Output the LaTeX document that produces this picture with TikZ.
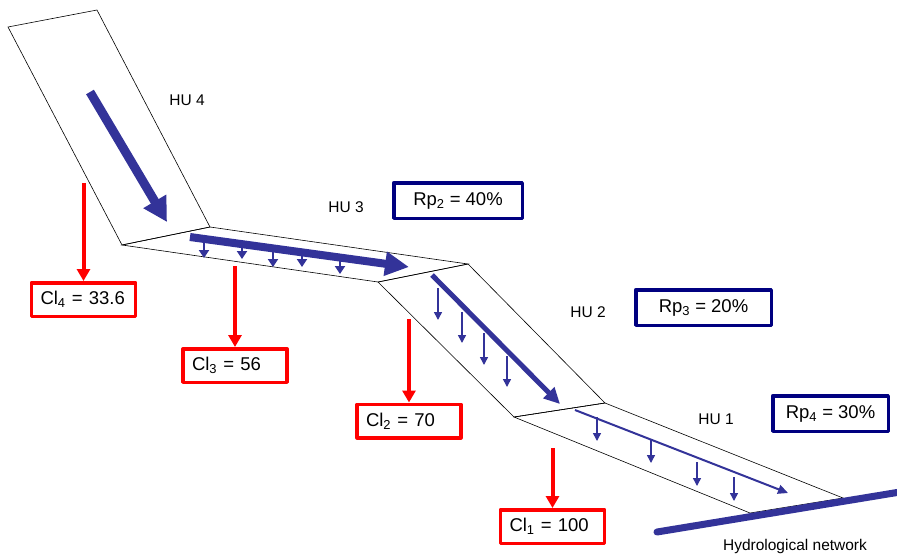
\documentclass[tikz,border=0pt]{standalone}
\usepackage{fontspec}
\setmainfont{Liberation Sans}
\usepackage{tikz}
\usetikzlibrary{shapes,arrows,arrows.meta,positioning}
\definecolor{flowblue}{RGB}{51,51,153}
\definecolor{navy}{RGB}{0,0,128}

\begin{document}
\begin{tikzpicture}[x=1pt,y=-1pt,
  every node/.style={font=\fontsize{15.5}{18}\selectfont},
  clbox/.style={draw=red,line width=3.5pt,line join=round,minimum height=33.5pt,text width=86pt,inner xsep=9pt,align=left,font=\fontsize{18.5}{22}\selectfont},
  rpbox/.style={draw=navy,line width=3.5pt,line join=round,minimum height=35.5pt,align=center,font=\fontsize{18.5}{22}\selectfont},
  unit/.style={draw=black,line width=0.6pt,line join=miter},
  loss/.style={draw=red,line width=4pt,-{Triangle[width=13pt,length=12pt]}},
  seep/.style={draw=flowblue,line width=1.5pt,-{Triangle[width=8pt,length=8pt]}}]
\useasboundingbox (0,0) rectangle (897,558);

% hydrological units
\draw[unit] (8,27) -- (97,10) -- (210,227) -- (122,245) -- cycle;
\draw[unit] (122,245) -- (210,227) -- (468,264) -- (378,282) -- cycle;
\draw[unit] (378,282) -- (468,264) -- (605,403) -- (514,417) -- cycle;
\draw[unit] (514,417) -- (605,403) -- (843,498) -- (750,513) -- cycle;

% surface flow
\draw[flowblue,line width=9pt,-{Triangle[width=25pt,length=24pt]}] (90,92) -- (167,222);
\draw[flowblue,line width=8pt,-{Triangle[width=23pt,length=24pt]}] (190,237) -- (409,267);
\draw[flowblue,line width=5pt,-{Triangle[width=15pt,length=16pt]}] (432,275) -- (560,404);
\draw[flowblue,line width=2pt,-{Triangle[width=9pt,length=10pt]}] (575,410) -- (788,493);

% infiltration
\foreach \x/\ya/\yb in {204/239/258,242/244/259,273/248/267,302/252/267,340/258/274}
  \draw[flowblue,line width=2.5pt,-{Triangle[width=10pt,length=8pt]}] (\x,\ya) -- (\x,\yb);
\foreach \x/\ya/\yb in {438/288/320,462/312/343,484/333/365,507/356/387,597/417/441,651/440/463,697/462/486,734/477/501}
  \draw[seep] (\x,\ya) -- (\x,\yb);

% river
\draw[flowblue,line width=7pt,line cap=round] (657,532) -- (900,492);
\node (net) at (795,546) {Hydrological network};

% labels
\node (hu4) at (187,100) {HU 4};
\node (hu3) at (346,207) {HU 3};
\node (hu2) at (588,312) {HU 2};
\node (hu1) at (716,419) {HU 1};

\node[rpbox,minimum width=128.5pt] (rp2) at (458,200.5) {Rp\textsubscript{2} = 40\%};
\node[rpbox,minimum width=135.5pt] (rp3) at (703.5,307.5) {Rp\textsubscript{3} = 20\%};
\node[rpbox,minimum width=115.5pt] (rp4) at (830.5,413.5) {Rp\textsubscript{4} = 30\%};

\node[clbox] (cl4) at (83.5,299.5) {Cl\textsubscript{4} = 33.6};
\node[clbox] (cl3) at (235,365.5) {Cl\textsubscript{3} = 56};
\node[clbox] (cl2) at (409,421) {Cl\textsubscript{2} = 70};
\node[clbox] (cl1) at (552.5,526.5) {Cl\textsubscript{1} = 100};

\coordinate (c4) at (83.5,183);
\coordinate (c3) at (235,266);
\coordinate (c2) at (409,319);
\coordinate (c1) at (552.5,448);
\draw[loss] (c4) -- (cl4);
\draw[loss] (c3) -- (cl3);
\draw[loss] (c2) -- (cl2);
\draw[loss] (c1) -- (cl1);

\end{tikzpicture}
\end{document}
